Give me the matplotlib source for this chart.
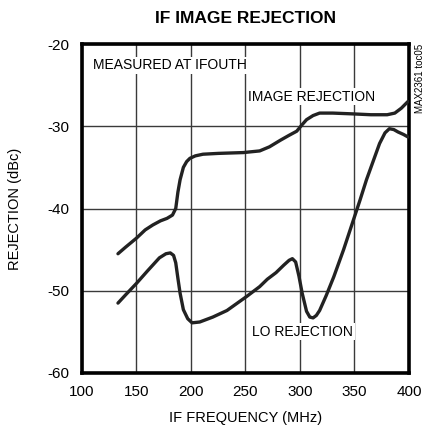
import matplotlib
matplotlib.use("Agg")
import matplotlib.pyplot as plt

plt.rcParams['font.family'] = ['Liberation Sans Narrow', 'Liberation Sans', 'DejaVu Sans']
plt.rcParams['axes.unicode_minus'] = False

img_freq = [133, 140, 150, 158, 165, 172, 178, 183, 186, 188, 190, 193, 196, 199, 204, 211, 225, 248, 263, 272, 282, 290, 297, 302, 306, 312, 318, 330, 349, 365, 380, 387, 393, 399]
img_rej = [-45.5, -44.7, -43.6, -42.6, -42.0, -41.5, -41.2, -40.8, -40.0, -38.0, -36.5, -35.0, -34.3, -33.9, -33.6, -33.4, -33.3, -33.2, -33.0, -32.5, -31.7, -31.1, -30.6, -29.8, -29.2, -28.7, -28.4, -28.4, -28.5, -28.6, -28.6, -28.4, -27.8, -27.0]

lo_freq = [133, 140, 150, 160, 171, 177, 181, 184, 186, 188, 190, 193, 197, 201, 208, 220, 233, 251, 263, 270, 278, 285, 290, 293, 296, 299, 302, 306, 309, 312, 315, 318, 324, 331, 340, 349, 355, 361, 367, 373, 378, 382, 386, 390, 395, 399]
lo_rej = [-51.5, -50.5, -49.1, -47.6, -46.0, -45.5, -45.4, -45.7, -46.6, -48.5, -50.3, -52.3, -53.4, -53.9, -53.8, -53.2, -52.4, -50.7, -49.5, -48.6, -47.8, -46.9, -46.3, -46.1, -46.5, -48.2, -50.3, -52.5, -53.2, -53.3, -53.0, -52.4, -50.6, -48.3, -45.0, -41.4, -39.0, -36.5, -34.3, -32.1, -30.8, -30.3, -30.4, -30.7, -31.0, -31.3]

xticks = [100, 150, 200, 250, 300, 350, 400]
yticks = [-60, -50, -40, -30, -20]

fig = plt.figure(figsize=(4.27, 4.33), dpi=100)
ax = fig.add_axes([82/427, 1 - 373/433, (409-82)/427, (373-44)/433])

ax.plot(img_freq, img_rej, color='#222222', lw=2.4, solid_capstyle='round', zorder=3)
ax.plot(lo_freq, lo_rej, color='#222222', lw=2.4, solid_capstyle='round', zorder=3)

ax.set_xlim(100, 400)
ax.set_ylim(-60, -20)
ax.set_xticks(xticks)
ax.set_yticks(yticks)
ax.tick_params(length=0, labelsize=11, pad=9)
ax.grid(True, color='#3a3a3a', lw=1.0)
ax.set_axisbelow(True)
for s in ax.spines.values():
    s.set_linewidth(2.6)
    s.set_color('black')

ax.set_xlabel('IF FREQUENCY (MHz)', fontsize=10.5, labelpad=8)
ax.set_ylabel('REJECTION (dBc)', fontsize=10.5, labelpad=18)
ax.set_title('IF IMAGE REJECTION', fontsize=12.5, fontweight='bold', pad=15)

bb = dict(facecolor='white', edgecolor='none', pad=1.0)
ax.text(110, -22.6, 'MEASURED AT IFOUTH', fontsize=10, va='center', ha='left', bbox=bb, zorder=2)
ax.text(311, -26.4, 'IMAGE REJECTION', fontsize=10, va='center', ha='center', bbox=bb, zorder=2)
ax.text(302.5, -55.0, 'LO REJECTION', fontsize=10, va='center', ha='center', bbox=bb, zorder=2)

fig.text(420/427, 1 - 44/433, 'MAX2361 toc05', rotation=90, fontsize=7, ha='center', va='top')

fig.savefig('out.png', dpi=100)
